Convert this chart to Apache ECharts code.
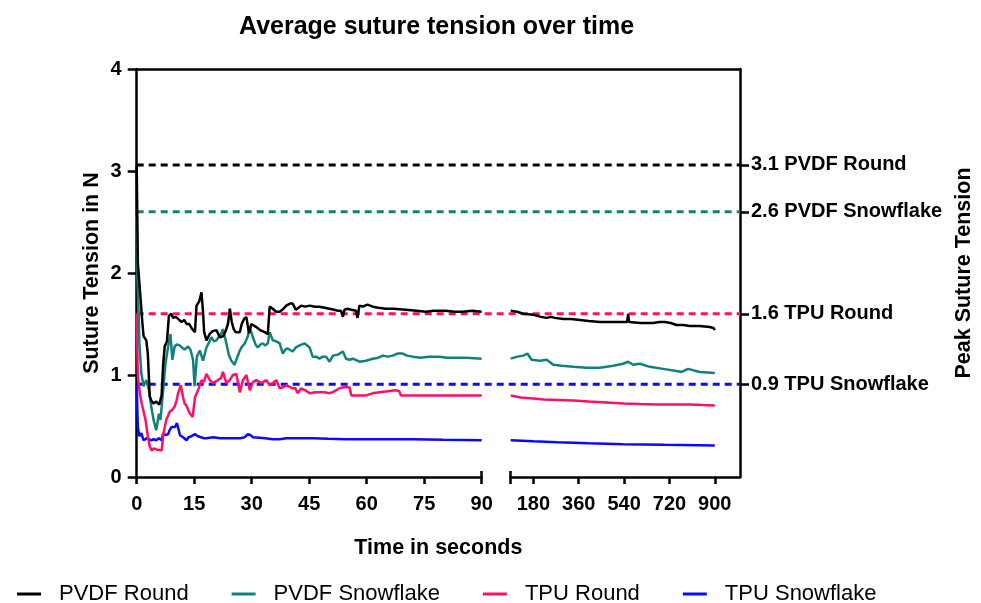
<!DOCTYPE html>
<html><head><meta charset="utf-8">
<script src="https://cdn.jsdelivr.net/npm/echarts@6/dist/echarts.min.js"></script>
<style>html,body{margin:0;padding:0;background:#fff}#c{width:981px;height:603px}</style>
</head><body><div id="c"></div><script>
// ---------- data ----------
const seriesNames = ['PVDF Round', 'PVDF Snowflake', 'TPU Round', 'TPU Snowflake'];
const seriesColors = ['#000000', '#12807c', '#ff0f66', '#0a0aff'];

const xTicksEarly = [0, 15, 30, 45, 60, 75, 90];
const xTicksLate = [180, 360, 540, 720, 900];

const peakValues = [3.06, 2.6, 1.6, 0.91];
const peakLabels = ['3.1 PVDF Round', '2.6 PVDF Snowflake', '1.6 TPU Round', '0.9 TPU Snowflake'];

const pvdfRoundEarly = [[0,3.05],[0.3,2.1],[0.9,1.8],[1.5,1.5],[1.8,1.38],[2.5,1.34],[2.9,1.21],[3.4,0.79],[3.8,0.75],[4.4,0.72],[5.1,0.74],[5.9,0.71],[6.5,0.80],[6.9,1.1],[7.3,1.28],[7.9,1.33],[8.4,1.58],[9.0,1.6],[9.5,1.56],[10.2,1.57],[10.8,1.55],[11.7,1.52],[12.4,1.54],[13.0,1.5],[13.7,1.5],[14.3,1.46],[15.2,1.42],[15.6,1.68],[16.3,1.72],[16.9,1.81],[17.3,1.62],[17.6,1.42],[18.2,1.34],[19.0,1.40],[19.8,1.43],[20.8,1.44],[21.7,1.37],[22.5,1.38],[23.2,1.43],[23.8,1.50],[24.3,1.65],[24.8,1.52],[25.3,1.45],[25.8,1.42],[26.9,1.42],[27.4,1.50],[28.0,1.55],[28.6,1.57],[29.0,1.48],[29.3,1.41],[29.9,1.50],[31.2,1.47],[32.2,1.44],[33.4,1.42],[34.2,1.40],[34.7,1.67],[35.5,1.65],[36.4,1.62],[37.3,1.62],[38.3,1.65],[39.0,1.68],[40.0,1.70],[40.7,1.70],[41.5,1.64],[42.0,1.63],[42.9,1.68],[44.0,1.67],[45.1,1.68],[46.5,1.67],[47.7,1.67],[49.0,1.66],[50.3,1.65],[51.5,1.64],[52.5,1.63],[53.3,1.63],[53.8,1.57],[54.2,1.64],[55.0,1.65],[56.0,1.64],[57.2,1.63],[57.6,1.56],[58.1,1.68],[59.0,1.67],[60.2,1.69],[60.7,1.68],[61.6,1.67],[63.0,1.66],[65.0,1.65],[67.0,1.65],[70.2,1.64],[73.0,1.63],[75.4,1.62],[77.5,1.63],[80.6,1.63],[83.0,1.62],[85.0,1.62],[87.5,1.63],[90,1.62]];
const pvdfRoundLate = [[90,1.63],[115,1.62],[140,1.60],[180,1.59],[210,1.57],[233,1.56],[250,1.57],[266,1.56],[299,1.55],[330,1.55],[365,1.54],[400,1.53],[444,1.52],[490,1.52],[536,1.52],[552,1.52],[556,1.60],[560,1.52],[603,1.51],[630,1.51],[655,1.51],[680,1.52],[702,1.52],[725,1.51],[748,1.49],[775,1.49],[801,1.48],[840,1.48],[880,1.47],[895,1.46],[900,1.44]];

const pvdfSnowEarly = [[0,2.55],[0.2,1.96],[0.4,1.74],[0.7,1.31],[1.2,1.02],[1.8,0.89],[2.5,0.95],[3.2,0.85],[3.8,0.69],[4.4,0.56],[5.1,0.46],[5.8,0.62],[6.2,0.56],[6.9,0.85],[7.5,1.11],[8.2,1.28],[8.8,1.40],[9.3,1.15],[9.9,1.28],[10.5,1.3],[11.2,1.29],[11.8,1.27],[12.5,1.25],[13.4,1.28],[14.0,1.25],[14.7,1.15],[15.1,0.89],[15.7,1.18],[16.5,1.24],[17.3,1.14],[18.2,1.27],[19.0,1.33],[19.5,1.37],[20.2,1.33],[20.8,1.34],[21.5,1.38],[22.1,1.41],[22.5,1.45],[23.4,1.31],[24.0,1.2],[24.7,1.14],[25.5,1.10],[26.0,1.09],[26.9,1.24],[27.5,1.28],[28.2,1.31],[29.0,1.38],[29.5,1.47],[30.3,1.37],[31.0,1.3],[31.6,1.27],[32.3,1.30],[32.9,1.31],[33.5,1.29],[34.2,1.31],[34.7,1.42],[35.5,1.34],[36.4,1.33],[37.3,1.31],[38.1,1.21],[38.8,1.25],[39.4,1.26],[40.7,1.23],[41.5,1.27],[42.5,1.29],[43.8,1.31],[45.1,1.27],[45.9,1.18],[46.8,1.18],[47.7,1.16],[48.5,1.18],[49.4,1.18],[50.3,1.13],[51.2,1.19],[52.5,1.20],[53.8,1.23],[54.6,1.16],[55.5,1.15],[56.4,1.16],[58.1,1.13],[59.8,1.14],[61.6,1.16],[63.0,1.17],[64.2,1.19],[65.5,1.18],[66.8,1.19],[68.0,1.21],[69.4,1.21],[70.5,1.19],[72.0,1.18],[74.0,1.17],[76.3,1.18],[78.9,1.18],[81.0,1.17],[83.2,1.17],[86.0,1.17],[90,1.16]];
const pvdfSnowLate = [[90,1.16],[116,1.18],[140,1.19],[156,1.21],[173,1.15],[206,1.14],[233,1.15],[259,1.10],[292,1.09],[339,1.08],[392,1.07],[444,1.07],[497,1.09],[536,1.11],[556,1.13],[576,1.10],[603,1.11],[642,1.08],[695,1.06],[748,1.04],[768,1.03],[794,1.06],[840,1.03],[900,1.02]];

const tpuRoundEarly = [[0,1.6],[0.3,0.98],[0.9,0.8],[1.3,0.72],[1.7,0.72],[2.3,0.56],[2.9,0.40],[3.4,0.30],[3.9,0.26],[4.5,0.28],[5.1,0.27],[5.6,0.26],[6.5,0.26],[7.0,0.43],[7.7,0.56],[8.2,0.6],[8.6,0.64],[9.3,0.66],[9.9,0.69],[10.4,0.75],[10.8,0.82],[11.5,0.90],[12.1,0.78],[12.5,0.72],[13.0,0.70],[13.4,0.66],[13.9,0.62],[14.6,0.59],[15.2,0.78],[16.0,0.85],[16.9,0.95],[17.5,0.93],[18.2,1.01],[19.1,0.95],[19.9,0.92],[21.2,0.95],[22.0,0.97],[22.5,1.03],[23.4,0.92],[24.3,0.95],[25.1,1.00],[26.0,1.01],[26.9,0.83],[27.7,0.95],[28.6,1.00],[29.5,0.85],[30.3,0.93],[31.2,0.95],[32.5,0.92],[33.8,0.95],[34.7,0.90],[35.5,0.92],[36.4,0.95],[37.3,0.87],[38.2,0.88],[39.0,0.90],[40.7,0.87],[41.4,0.87],[42.0,0.82],[42.9,0.87],[44.0,0.85],[45.1,0.82],[46.5,0.83],[47.7,0.83],[49.0,0.83],[50.3,0.82],[51.5,0.84],[52.9,0.87],[54.0,0.88],[55.5,0.88],[56.0,0.80],[58.0,0.80],[59.8,0.80],[61.5,0.82],[63.3,0.83],[65.5,0.84],[67.6,0.85],[68.5,0.84],[68.9,0.80],[72,0.80],[76.3,0.80],[80,0.80],[85,0.80],[90,0.80]];
const tpuRoundLate = [[90,0.80],[130,0.78],[180,0.77],[220,0.76],[280,0.755],[339,0.75],[400,0.74],[470,0.73],[536,0.72],[600,0.715],[668,0.71],[730,0.71],[801,0.71],[850,0.705],[900,0.70]];

const tpuSnowEarly = [[0,0.9],[0.3,0.49],[0.7,0.40],[1.2,0.43],[1.8,0.36],[2.6,0.38],[3.2,0.37],[3.8,0.36],[4.4,0.37],[5.1,0.36],[5.8,0.38],[6.5,0.36],[6.9,0.43],[7.6,0.41],[8.2,0.42],[8.6,0.46],[9.1,0.49],[9.6,0.50],[10.0,0.49],[10.5,0.53],[10.8,0.54],[11.3,0.41],[12.1,0.39],[13.0,0.36],[13.5,0.39],[14.3,0.40],[15.2,0.42],[16.0,0.40],[16.5,0.39],[17.5,0.38],[18.2,0.38],[20.0,0.39],[21.7,0.38],[23.5,0.38],[25.1,0.38],[27.0,0.38],[28.2,0.39],[29.0,0.42],[29.7,0.41],[30.3,0.39],[32.0,0.385],[33.5,0.38],[35.5,0.37],[37.3,0.37],[39.0,0.38],[42.0,0.38],[45.9,0.38],[50.0,0.375],[54.6,0.37],[60.0,0.37],[66.0,0.37],[72,0.37],[80,0.365],[90,0.36]];
const tpuSnowLate = [[90,0.36],[180,0.35],[275,0.34],[400,0.33],[536,0.32],[700,0.315],[900,0.31]];

const earlyData = [pvdfRoundEarly, pvdfSnowEarly, tpuRoundEarly, tpuSnowEarly];
const lateData = [pvdfRoundLate, pvdfSnowLate, tpuRoundLate, tpuSnowLate];

// ---------- chart ----------
const FONT = '"Liberation Sans", Arial, Helvetica, sans-serif';
const AXC = '#000';
const AXW = 2.5;
const tickLabel = { fontSize: 20, fontWeight: 'bold', color: '#000', fontFamily: FONT };

const series = [];
seriesNames.forEach((n, i) => {
  series.push({ name: n, type: 'line', xAxisIndex: 0, yAxisIndex: 0, data: earlyData[i],
    showSymbol: false, symbol: 'none', lineStyle: { color: seriesColors[i], width: 2.5 },
    itemStyle: { color: seriesColors[i] }, z: 10 - i });
  series.push({ name: n, type: 'line', xAxisIndex: 1, yAxisIndex: 1, data: lateData[i],
    showSymbol: false, symbol: 'none', lineStyle: { color: seriesColors[i], width: 2.5 },
    itemStyle: { color: seriesColors[i] }, z: 10 - i });
});
peakValues.forEach((v, i) => {
  series.push({ name: 'peak ' + i, type: 'line', xAxisIndex: 2, yAxisIndex: 2,
    data: [[0, v], [1, v]], showSymbol: false, symbol: 'none', silent: true,
    lineStyle: { color: seriesColors[i], width: 3, type: [7, 5] }, z: 5 });
});

const option = {
  animation: false,
  backgroundColor: '#fff',
  title: { text: 'Average suture tension over time', left: 234, top: 10,
    textStyle: { fontSize: 25, fontWeight: 'bold', color: '#000', fontFamily: FONT } },
  legend: { data: seriesNames, left: 12, top: 578, icon: 'rect', itemWidth: 24, itemHeight: 3,
    itemGap: 43, textStyle: { fontSize: 22, color: '#000', fontFamily: FONT, padding: [0, 0, 0, 13] } },
  grid: [
    { left: 136.7, right: 499.3, top: 69, bottom: 126, outerBoundsMode: 'none' },
    { left: 510.7, right: 241, top: 69, bottom: 126, outerBoundsMode: 'none' },
    { left: 136.7, right: 241, top: 69, bottom: 126, outerBoundsMode: 'none' }
  ],
  xAxis: [
    { gridIndex: 0, type: 'value', min: 0, max: 90, interval: 15, position: 'bottom',
      axisLine: { show: true, onZero: false, lineStyle: { color: AXC, width: AXW } },
      axisTick: { show: true, length: 7, lineStyle: { color: AXC, width: AXW } },
      axisLabel: Object.assign({ margin: 17, customValues: xTicksEarly }, tickLabel),
      splitLine: { show: false } },
    { gridIndex: 1, type: 'value', min: 90, max: 1000, position: 'bottom',
      axisLine: { show: true, onZero: false, lineStyle: { color: AXC, width: AXW } },
      axisTick: { show: true, length: 7, customValues: [90].concat(xTicksLate), lineStyle: { color: AXC, width: AXW } },
      axisLabel: Object.assign({ margin: 17, customValues: xTicksLate }, tickLabel),
      splitLine: { show: false } },
    { gridIndex: 2, type: 'value', min: 0, max: 1, position: 'top',
      axisLine: { show: true, onZero: false, lineStyle: { color: AXC, width: AXW } },
      axisTick: { show: false }, axisLabel: { show: false }, splitLine: { show: false } },
    { gridIndex: 2, type: 'value', min: 0, max: 1, position: 'bottom',
      axisLine: { show: false, onZero: false }, axisTick: { show: false }, axisLabel: { show: false },
      splitLine: { show: false },
      name: 'Time in seconds', nameLocation: 'middle', nameGap: 60,
      nameTextStyle: { fontSize: 21.5, fontWeight: 'bold', color: '#000', fontFamily: FONT } },
    { gridIndex: 0, type: 'value', min: 0, max: 90, position: 'bottom',
      axisLine: { show: false, onZero: false },
      axisTick: { show: true, inside: true, length: 6, customValues: [90], lineStyle: { color: AXC, width: AXW } },
      axisLabel: { show: false }, splitLine: { show: false } },
    { gridIndex: 1, type: 'value', min: 90, max: 1000, position: 'bottom',
      axisLine: { show: false, onZero: false },
      axisTick: { show: true, inside: true, length: 6, customValues: [90], lineStyle: { color: AXC, width: AXW } },
      axisLabel: { show: false }, splitLine: { show: false } }
  ],
  yAxis: [
    { gridIndex: 0, type: 'value', min: 0, max: 4, interval: 1, position: 'left',
      axisLine: { show: true, onZero: false, lineStyle: { color: AXC, width: AXW } },
      axisTick: { show: true, length: 9, lineStyle: { color: AXC, width: AXW } },
      axisLabel: Object.assign({ margin: 15 }, tickLabel),
      splitLine: { show: false },
      name: 'Suture Tension in N', nameLocation: 'middle', nameGap: 34, nameRotate: 90,
      nameTextStyle: { fontSize: 21.5, fontWeight: 'bold', color: '#000', fontFamily: FONT } },
    { gridIndex: 1, type: 'value', min: 0, max: 4, show: false },
    { gridIndex: 2, type: 'value', min: 0, max: 4, position: 'right',
      axisLine: { show: true, onZero: false, lineStyle: { color: AXC, width: AXW } },
      axisTick: { show: true, length: 9, customValues: peakValues, lineStyle: { color: AXC, width: AXW } },
      axisLabel: Object.assign({ margin: 11, customValues: peakValues,
        formatter: (v) => { const i = peakValues.findIndex(p => Math.abs(p - v) < 1e-6); return i >= 0 ? peakLabels[i] : ''; } },
        tickLabel, { fontSize: 20 }),
      splitLine: { show: false },
      name: 'Peak Suture Tension', nameLocation: 'middle', nameGap: 208, nameRotate: 90,
      nameTextStyle: { fontSize: 21.5, fontWeight: 'bold', color: '#000', fontFamily: FONT } }
  ],
  series: series
};

const chart = echarts.init(document.getElementById('c'), null, { renderer: 'canvas' });
chart.setOption(option);
</script></body></html>
